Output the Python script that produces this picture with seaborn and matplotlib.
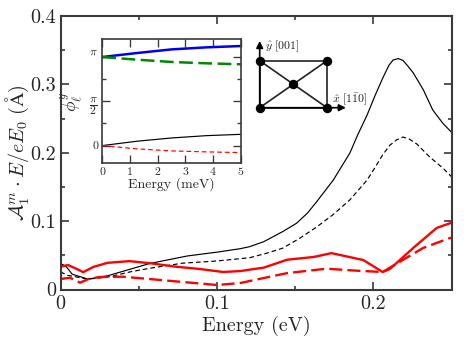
import numpy as np
import pandas as pd
import seaborn as sns
import matplotlib
matplotlib.use('Agg')
import matplotlib.pyplot as plt
from matplotlib.ticker import MultipleLocator
from matplotlib.transforms import ScaledTranslation

sns.set_theme(style="ticks")
plt.rcParams['font.family'] = ['cmr10', 'DejaVu Sans']
plt.rcParams['mathtext.fontset'] = 'cm'
plt.rcParams['axes.unicode_minus'] = False
plt.rcParams['axes.formatter.use_mathtext'] = True

# main panel, energy in eV
black_solid_e = [0, 0.0035, 0.0074, 0.0175, 0.03, 0.045, 0.057, 0.081, 0.1, 0.115, 0.121, 0.13, 0.142, 0.151, 0.158, 0.164, 0.1744,
                 0.185, 0.19, 0.196, 0.201, 0.206, 0.21, 0.2127, 0.216, 0.219, 0.222, 0.2255, 0.232, 0.238, 0.2445, 0.25]
black_solid = [0.038, 0.034, 0.0225, 0.0152, 0.02, 0.03, 0.038, 0.049, 0.0546, 0.0597, 0.0627, 0.07, 0.0846, 0.097, 0.112, 0.129, 0.16,
               0.1995, 0.226, 0.255, 0.283, 0.309, 0.328, 0.3357, 0.3377, 0.335, 0.327, 0.317, 0.292, 0.2626, 0.243, 0.23]
black_dash_e = [0, 0.004, 0.0175, 0.03, 0.045, 0.057, 0.078, 0.1, 0.121, 0.132, 0.142, 0.153, 0.164, 0.174, 0.185, 0.196,
                0.201, 0.206, 0.2106, 0.215, 0.219, 0.223, 0.2277, 0.236, 0.2445, 0.25]
black_dash = [0.026, 0.021, 0.0152, 0.018, 0.026, 0.031, 0.0385, 0.0417, 0.0465, 0.0532, 0.0604, 0.075, 0.0918, 0.109, 0.131, 0.16,
              0.178, 0.197, 0.211, 0.219, 0.223, 0.22, 0.213, 0.194, 0.1775, 0.165]
red_solid_e = [0, 0.0048, 0.0093, 0.0145, 0.021, 0.03, 0.044, 0.057, 0.074, 0.089, 0.104, 0.115, 0.13, 0.145, 0.1617, 0.1733,
               0.1936, 0.206, 0.2106, 0.2255, 0.2405, 0.25]
red_solid = [0.0333, 0.0358, 0.0312, 0.0254, 0.033, 0.039, 0.0415, 0.0385, 0.0333, 0.03, 0.0256, 0.027, 0.032, 0.0436, 0.0475, 0.0532,
             0.0431, 0.0256, 0.03, 0.0607, 0.09, 0.0977]
red_dash_e = [0, 0.0061, 0.0125, 0.0178, 0.025, 0.04, 0.057, 0.078, 0.1, 0.115, 0.13, 0.145, 0.17, 0.1895, 0.206, 0.217, 0.2318, 0.249, 0.25]
red_dash = [0.0153, 0.0172, 0.01, 0.0153, 0.0183, 0.0187, 0.0153, 0.011, 0.0066, 0.0095, 0.0168, 0.024, 0.0304, 0.0275, 0.0256, 0.0407, 0.0607, 0.0753, 0.0756]

# inset, energy in meV, phase in units of pi
inset_e = [0, 1.25, 2.5, 3.75, 5]
phi_blue = [1.0, 1.045, 1.086, 1.109, 1.124]
phi_green = [1.0, 0.97, 0.944, 0.929, 0.918]
phi_black = [0, 0.049, 0.086, 0.112, 0.127]
phi_red = [0, -0.037, -0.06, -0.071, -0.079]

# lattice sketch
node_x = [0, 1, 0, 1, 0.5]
node_y = [1, 1, 0, 0, 0.5]
bond_a = [0, 1, 3, 2, 0, 1]
bond_b = [1, 3, 2, 0, 3, 2]

W, H = 469, 342
DARK = '#3a3a3a'


def add_curve(ax, x, y, color, lw, ls='-'):
    df = pd.DataFrame({'x': x, 'y': y})
    sns.lineplot(data=df, x='x', y='y', color=color, linewidth=lw, linestyle=ls, ax=ax, errorbar=None, estimator=None)


def box(left, right, top, bottom):
    return [left / W, 1 - bottom / H, (right - left) / W, (bottom - top) / H]


def style_axes(ax, width, major, minor, size):
    for s in ax.spines.values():
        s.set_linewidth(width)
        s.set_color(DARK)
    ax.tick_params(which='major', direction='in', top=True, right=True, length=major, width=width * 0.8, labelsize=size, color=DARK)
    ax.tick_params(which='minor', direction='in', top=True, right=True, length=minor, width=width * 0.8, color=DARK)
    ax.set_xlabel('')
    ax.set_ylabel('')


fig = plt.figure(figsize=(W / 100, H / 100), dpi=100)

ax = fig.add_axes(box(60.5, 451.5, 16, 289.5))
add_curve(ax, black_solid_e, black_solid, 'black', 0.85)
add_curve(ax, black_dash_e, black_dash, 'black', 0.85, (0, (4, 2.5)))
add_curve(ax, red_solid_e, red_solid, '#ff0000', 1.7)
add_curve(ax, red_dash_e, red_dash, '#ff0000', 1.7, (0, (5.5, 2.2)))
ax.set_xlim(0, 0.25)
ax.set_ylim(0, 0.4)
ax.xaxis.set_minor_locator(MultipleLocator(0.05))
ax.yaxis.set_minor_locator(MultipleLocator(0.05))
style_axes(ax, 1.5, 6, 3, 14.5)
ax.tick_params(axis='x', pad=4)
ax.tick_params(axis='y', pad=3)
ax.set_xticks([0, 0.1, 0.2])
ax.set_xticklabels(['0', '0.1', '0.2'])
ax.set_yticks([0, 0.1, 0.2, 0.3, 0.4])
ax.set_yticklabels(['0', '0.1', '0.2', '0.3', '0.4'])
ax.set_xlabel('Energy (eV)', fontsize=14.5, labelpad=2)
ax.set_ylabel(r'$\mathcal{A}_1^m\cdot E/eE_0\ (\mathrm{\AA})$', fontsize=14.5, labelpad=0)

inset = fig.add_axes(box(102.3, 240.7, 39.3, 163.3))
add_curve(inset, inset_e, phi_black, 'black', 0.85)
add_curve(inset, inset_e, phi_red, '#ff0000', 0.85, (0, (4, 2.5)))
add_curve(inset, inset_e, phi_blue, '#0000ee', 1.8)
add_curve(inset, inset_e, phi_green, '#008800', 1.8, (0, (5.5, 2.2)))
inset.set_xlim(0, 5)
inset.set_ylim(-0.2, 1.2)
inset.set_xticks([0, 1, 2, 3, 4, 5])
inset.set_yticks([0, 0.5, 1])
inset.set_yticks([0.25, 0.75], minor=True)
style_axes(inset, 1.2, 5.5, 3, 8.5)
inset.tick_params(axis='both', pad=3)
inset.set_xticklabels(['0', '1', '2', '3', '4', '5'])
inset.set_yticklabels(['0', r'$\dfrac{\pi}{2}$', r'$\pi$'])
pi_label = inset.get_yticklabels()[2]
pi_label.set_transform(pi_label.get_transform() + ScaledTranslation(0, 4 / 72, fig.dpi_scale_trans))
inset.set_xlabel('Energy (meV)', fontsize=10, labelpad=0)
inset.set_ylabel(r'$\phi_\ell^y$', fontsize=12.5, labelpad=3)

sketch = fig.add_axes(box(259.7, 327, 60.7, 107.7))
sketch.axis('off')
sketch.set_xlim(0, 1)
sketch.set_ylim(0, 1)
for a, b in zip(bond_a, bond_b):
    sketch.plot([node_x[a], node_x[b]], [node_y[a], node_y[b]], color='#222222', lw=1.2, clip_on=False, zorder=2)
sns.scatterplot(x=node_x, y=node_y, s=46, color='black', linewidth=0, ax=sketch, clip_on=False, zorder=3)
sketch.annotate('', xy=(1.28, 0), xytext=(0, 0), annotation_clip=False,
                arrowprops=dict(arrowstyle='-|>', color='black', lw=1.2, shrinkA=0, shrinkB=0, mutation_scale=10))
sketch.annotate('', xy=(0, 1.42), xytext=(0, 0), annotation_clip=False,
                arrowprops=dict(arrowstyle='-|>', color='black', lw=1.2, shrinkA=0, shrinkB=0, mutation_scale=10))
sketch.text(0.08, 1.3, r'$\hat{y}\ [001]$', fontsize=8.5, color='#222222', ha='left', va='center')
sketch.text(1.08, 0.17, r'$\hat{x}\ [1\bar{1}0]$', fontsize=8.5, color='#222222', ha='left', va='center')

fig.savefig('out.png', dpi=100, facecolor='white')
